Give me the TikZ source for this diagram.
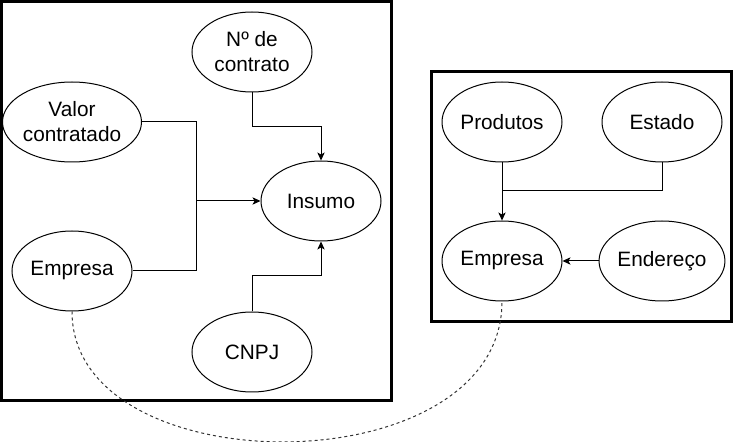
\documentclass[tikz,border=0pt]{standalone}
\usepackage{fontspec}
\setmainfont{Liberation Sans}
\usetikzlibrary{shapes.geometric,arrows.meta}
\begin{document}
\begin{tikzpicture}[x=0.75pt,y=-0.75pt,
  attr/.style={draw=black,line width=0.75pt,ellipse,minimum width=90pt,minimum height=60pt,inner sep=0pt,align=center,font=\fontsize{15.6}{18.75}\selectfont},
  frame/.style={draw=black,line width=2.25pt},
  conn/.style={draw=black,line width=0.75pt},
  arr/.style={conn,-{Stealth[length=6pt,width=5.5pt,inset=1.5pt]}},
  link/.style={draw=black!80,line width=0.75pt,dash pattern=on 2.25pt off 2.25pt}]
\useasboundingbox (0,0) rectangle (733,442);
% frames
\draw[frame] (1.5,2) rectangle (391.5,400.5);
\draw[frame] (431.5,71.5) rectangle (731.5,321.5);
% left nodes
\node[attr] (num) at (252,52) {Nº de\\contrato};
\node[attr] (valor) at (72,122) {Valor\\contratado};
\node[attr] (insumo) at (321,201) {Insumo};
\node[attr] (emp1) at (72,271) {Empresa};
\node[attr] (cnpj) at (252,352) {CNPJ};
% right nodes
\node[attr] (prod) at (502,122) {Produtos};
\node[attr] (estado) at (662,122) {Estado};
\node[attr] (emp2) at (502,261) {Empresa};
\node[attr] (end) at (662,261) {Endereço};
% junctions
\coordinate (j1) at (196,201);
\coordinate (j2) at (502,191);
% left connectors
\draw[arr] (num.south) -- ++(0,34) -| (insumo.north);
\draw[arr] (cnpj.north) -- ++(0,-36) -| (insumo.south);
\draw[conn] (valor.east) -| (j1);
\draw[conn] (emp1.east) -| (j1);
\draw[arr] (j1) -- (insumo.west);
% right connectors
\draw[arr] (prod.south) -- (emp2.north);
\draw[conn] (estado.south) |- (j2);
\draw[arr] (end.west) -- (emp2.east);
% dashed link
\draw[link] (emp1.south) .. controls (72,487) and (502,487) .. (emp2.south);
\end{tikzpicture}
\end{document}
